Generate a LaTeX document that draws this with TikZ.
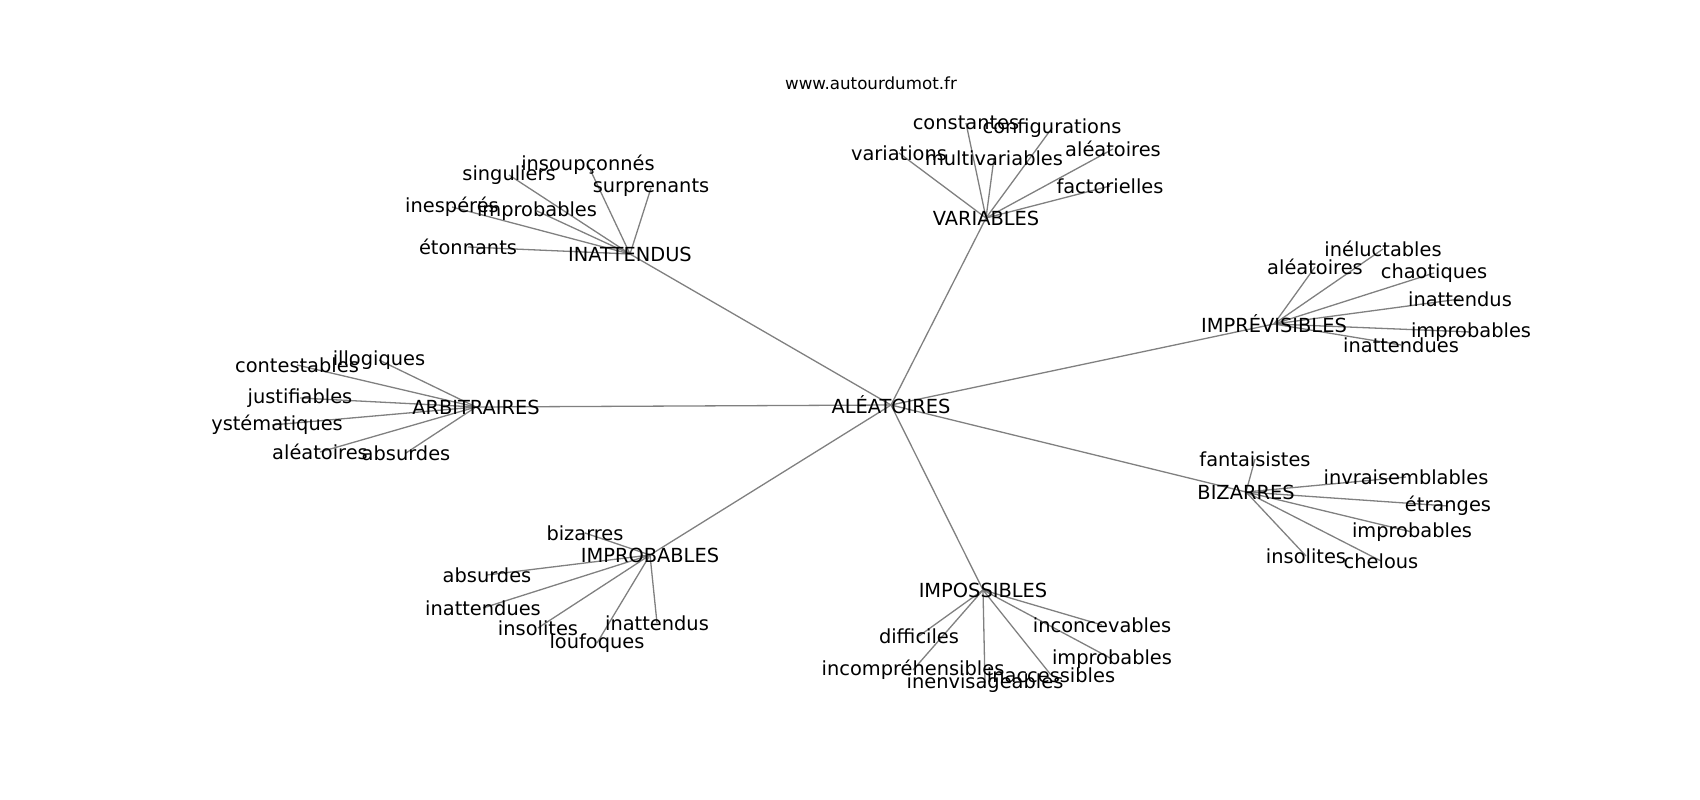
\documentclass[tikz,border=0pt]{standalone}
\usepackage{fontspec}
\setmainfont{DejaVu Sans}
\usetikzlibrary{backgrounds}
\definecolor{edgegray}{RGB}{128,128,128}
\tikzset{
  lbl/.style={inner sep=0pt, anchor=center, text=black, font=\fontsize{19.4}{22}\selectfont},
  ttl/.style={inner sep=0pt, anchor=center, text=black, font=\fontsize{16.7}{19}\selectfont},
  edge/.style={draw=edgegray, line width=1.3pt}
}
\begin{document}
\begin{tikzpicture}[x=1pt,y=-1pt]
\useasboundingbox (0,0) rectangle (1700,800);
\node[ttl] (title) at (871,83) {www.autourdumot.fr};
\begin{scope}
\clip (212.5,96) rectangle (1530,712);
% centre
\node[lbl] (c) at (891,405) {ALÉATOIRES};
% VARIABLES
\node[lbl] (v) at (986,218) {VARIABLES};
\node[lbl] (v1) at (966,123) {constantes};
\node[lbl] (v2) at (1052,128) {configurations};
\node[lbl] (v3) at (899,153) {variations};
\node[lbl] (v4) at (994,158) {multivariables};
\node[lbl] (v5) at (1113,149) {aléatoires};
\node[lbl] (v6) at (1110,186) {factorielles};
% INATTENDUS
\node[lbl] (n) at (630,254) {INATTENDUS};
\node[lbl] (n1) at (509,175) {singuliers};
\node[lbl] (n2) at (588,165) {insoupçonnés};
\node[lbl] (n3) at (651,188) {surprenants};
\node[lbl] (n4) at (452,207) {inespérés};
\node[lbl] (n5) at (537,211) {improbables};
\node[lbl] (n6) at (468,247) {étonnants};
% IMPREVISIBLES
\node[lbl] (p) at (1274,324) {IMPRÉVISIBLES};
\node[lbl] (p1) at (1383,249) {inéluctables};
\node[lbl] (p2) at (1315,267) {aléatoires};
\node[lbl] (p3) at (1434,273) {chaotiques};
\node[lbl] (p4) at (1460,299) {inattendus};
\node[lbl] (p5) at (1471,332) {improbables};
\node[lbl] (p6) at (1401,345) {inattendues};
% ARBITRAIRES
\node[lbl] (a) at (476,407) {ARBITRAIRES};
\node[lbl] (a1) at (297,365) {contestables};
\node[lbl] (a2) at (379,360) {illogiques};
\node[lbl] (a3) at (300,398) {justifiables};
\node[lbl] (a4) at (272,425) {systématiques};
\node[lbl] (a5) at (320,452) {aléatoires};
\node[lbl] (a6) at (406,453) {absurdes};
% BIZARRES
\node[lbl] (b) at (1246,492) {BIZARRES};
\node[lbl] (b1) at (1255,459) {fantaisistes};
\node[lbl] (b2) at (1406,477) {invraisemblables};
\node[lbl] (b3) at (1448,506) {étranges};
\node[lbl] (b4) at (1412,532) {improbables};
\node[lbl] (b5) at (1306,556) {insolites};
\node[lbl] (b6) at (1381,561) {chelous};
% IMPROBABLES
\node[lbl] (r) at (650,555) {IMPROBABLES};
\node[lbl] (r1) at (585,533) {bizarres};
\node[lbl] (r2) at (487,575) {absurdes};
\node[lbl] (r3) at (483,608) {inattendues};
\node[lbl] (r4) at (538,628) {insolites};
\node[lbl] (r5) at (657,623) {inattendus};
\node[lbl] (r6) at (597,643) {loufoques};
% IMPOSSIBLES
\node[lbl] (s) at (983,590) {IMPOSSIBLES};
\node[lbl] (s1) at (919,636) {difficiles};
\node[lbl] (s2) at (1102,625) {inconcevables};
\node[lbl] (s3) at (1112,659) {improbables};
\node[lbl] (s4) at (913,670) {incompréhensibles};
\node[lbl] (s5) at (1051,675) {inaccessibles};
\node[lbl] (s6) at (985,683) {inenvisageables};
\end{scope}
\begin{pgfonlayer}{background}
\foreach \h in {v,n,p,a,b,r,s}{
  \draw[edge] (c.center) -- (\h.center);
  \foreach \i in {1,...,6}{
    \draw[edge] (\h.center) -- (\h\i.center);
  }
}
\end{pgfonlayer}
\end{tikzpicture}
\end{document}
